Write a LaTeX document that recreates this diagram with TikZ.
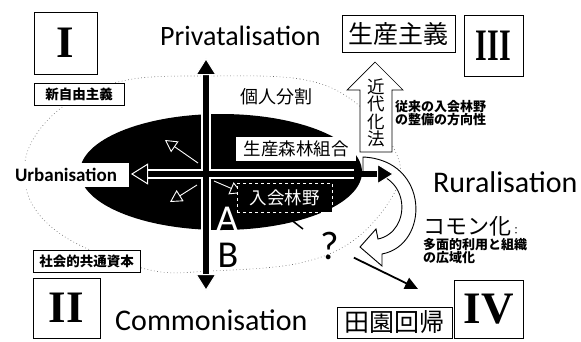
\documentclass[tikz,border=0pt]{standalone}
\usepackage{fontspec}
\setmainfont{Carlito}
\newfontfamily\jpfont{Noto Sans CJK JP}
\newfontfamily\numfont{Liberation Serif}
\usetikzlibrary{arrows.meta, positioning}
\newcommand{\fsz}[1]{\fontsize{#1}{#1}\selectfont}

\tikzset{
  bigtip/.tip={Triangle[length=17pt, width=21pt, color=white, fill=black, line width=1pt]},
  numbox/.style={draw, line width=0.8pt, inner sep=0pt, font=\numfont\bfseries\fsz{45}},
  tagbox/.style={draw, line width=0.7pt, fill=white, inner sep=0pt, font=\jpfont\bfseries\fsz{13.5}},
  wordbox/.style={draw, line width=0.8pt, inner sep=0pt, font=\jpfont\fsz{25}},
  mainaxis/.style={line width=6.5pt, {bigtip}-{bigtip}},
  axisedge/.style={white, line width=9.5pt},
  hint/.style={white, line width=0.9pt, -{Triangle[open, length=12pt, width=13pt]}}
}

\begin{document}
\begin{tikzpicture}[x=1pt, y=-1pt]
  \useasboundingbox[fill=white] (0,0) rectangle (581,341);

  % dotted outer region
  \draw[black!60, line width=0.6pt, dash pattern=on 0.7pt off 2.6pt]
    plot[smooth cycle, tension=0.6] coordinates {(210,76) (300,79) (352,100) (392,145) (398,185)
      (358,237) (300,263) (210,271) (150,270) (70,240) (30,200) (28,150) (65,105) (127,80)};

  % black core
  \fill[black] (221,172) ellipse [x radius=141, y radius=58];

  % quadrant numbers
  \node[numbox, minimum width=63pt, minimum height=62pt] (q1) at (65.5,43) {I};
  \node[numbox, minimum width=67pt, minimum height=60pt] (q2) at (66.5,308) {II};
  \node[numbox, minimum width=59pt, minimum height=61pt] (q3) at (493.5,45.5) {\scalebox{0.67}[1]{III}};
  \node[numbox, minimum width=69pt, minimum height=58pt] (q4) at (488.5,309) {IV};

  % small hints inside the core
  \coordinate (nwfrom) at (198,163);
  \coordinate (nwto) at (165,140);
  \coordinate (swfrom) at (197,185);
  \coordinate (swto) at (170,202);
  \coordinate (sefrom) at (214,181);
  \coordinate (seto) at (242,193);
  \draw[hint] (nwfrom) -- (nwto);
  \draw[hint] (swfrom) -- (swto);
  \draw[hint] (sefrom) -- (seto);

  % U-turn arrow
  \draw[fill=white, line width=0.9pt] (363,157) .. controls (430,160) and (430,245) .. (382,254)
    -- (382,266) -- (360,247) -- (376,229) -- (378,239) .. controls (412,232) and (412,172) .. (363,172) -- cycle;

  % axes
  \coordinate (ptop) at (206,58);
  \coordinate (pbot) at (206,291);
  \coordinate (uleft) at (131,174);
  \coordinate (uright) at (394,174);
  \draw[axisedge, shorten <=15pt, shorten >=15pt] (ptop) -- (pbot);
  \draw[axisedge, shorten <=15pt, shorten >=40pt] (uleft) -- (uright);
  \draw[mainaxis] (pbot) -- (ptop);
  \draw[mainaxis] (uright) -- (uleft);

  % axis labels
  \node[anchor=base west, inner sep=0pt, font=\fsz{28}] (priv) at (160,45) {Privatalisation};
  \node[anchor=base west, inner sep=0pt, font=\fsz{30}] (comm) at (115,330) {Commonisation};
  \node[anchor=base west, inner sep=0pt, font=\fsz{30}] (rural) at (433,192) {Ruralisation};
  \node[fill=white, inner xsep=12pt, inner ysep=5pt, font=\bfseries\fsz{19}] (urban) at (66,175) {Urbanisation};

  % boxed terms
  \node[wordbox, minimum width=113pt, minimum height=37pt] (prod) at (398.5,33.5) {生産主義};
  \node[wordbox, minimum width=115pt, minimum height=31pt] (idyll) at (394.5,322.5) {田園回帰};
  \node[tagbox, minimum width=90pt, minimum height=22pt] (neolib) at (79,94) {新自由主義};
  \node[tagbox, minimum width=107pt, minimum height=22pt] (sccap) at (86.5,261) {社会的共通資本};

  % inside the core
  \node[font=\jpfont\fsz{18}] (split) at (276,97) {個人分割};
  \node[fill=white, minimum width=120pt, minimum height=24pt, inner sep=0pt, font=\jpfont\fsz{17.5}] (coop) at (296,149) {生産森林組合};
  \coordinate (iriaitip) at (303,229);
  \node[fill=black, draw=white, dashed, line width=0.7pt, text=white, minimum width=95pt, minimum height=29pt, inner sep=0pt, font=\jpfont\fsz{17.5}] (iriai) at (284.5,197.5) {入会林野};
  \draw[line width=1.5pt] ([xshift=-3pt]iriai.south) -- (iriaitip);
  \node[text=white, inner sep=0pt, font=\fsz{38}] (pa) at (227,219) {A};
  \node[inner sep=0pt, font=\fsz{38}] (pb) at (228,255) {B};

  % modernisation arrow
  \draw[fill=white, line width=0.7pt] (375,62) -- (403,90) -- (392,90) -- (392,152) -- (360,152) -- (360,90) -- (347,90) -- cycle;
  \node[align=center, inner sep=0pt, font=\jpfont\fsz{17.5}] (modern) at (376,113) {近\\代\\化\\法};
  \node[anchor=north west, align=left, inner sep=0pt, font=\jpfont\bfseries\fsz{13}] (trad) at (395,100) {従来の入会林野\\の整備の方向性};

  % commoning
  \node[anchor=west, inner sep=0pt, font=\jpfont\fsz{22}] (common) at (423,226) {コモン化{\fsz{10}：}};
  \node[anchor=north west, align=left, inner sep=0pt, font=\jpfont\bfseries\fsz{13}] (multi) at (423,238) {多面的利用と組織\\の広域化};

  % question
  \node[inner sep=0pt, font=\fsz{40}] (qmark) at (330,246) {?};
  \coordinate (idyllend) at (418,289);
  \draw[line width=1.8pt, shorten <=16pt, -{Triangle[length=13pt, width=12pt]}] (qmark) -- (idyllend);
\end{tikzpicture}
\end{document}
